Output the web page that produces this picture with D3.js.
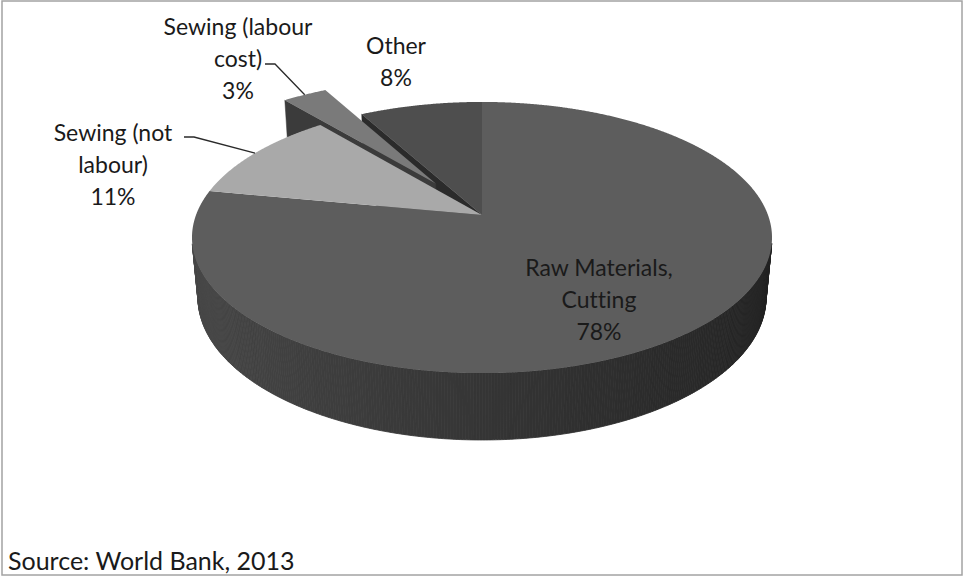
<!DOCTYPE html>
<html>
<head>
<meta charset="utf-8">
<script src="https://cdn.jsdelivr.net/npm/d3@7"></script>
<style>
  html, body { margin: 0; padding: 0; background: #fff; }
  svg { display: block; }
  text { font-family: Lato, "Open Sans", sans-serif; fill: #1a1a1a; font-variant-ligatures: none; font-feature-settings: "liga" 0; }
</style>
</head>
<body>
<svg id="chart" width="963" height="576"></svg>
<script>
// Garment cost breakdown
const categories = ["Raw Materials, Cutting", "Sewing (not labour)", "Sewing (labour cost)", "Other"];
const shares = [78, 11, 3, 8];
const labelLines = [["Raw Materials,", "Cutting"], ["Sewing (not", "labour)"], ["Sewing (labour", "cost)"], ["Other"]];
const explodeBy = [0, 0, 0.3, 0];
const sourceNote = "Source: World Bank, 2013";

// Styling
const topColors = ["#5d5d5d", "#a9a9a9", "#7a7a7a", "#4e4e4e"];
const faceColors = ["#3a3a3a", "#6a6a6a", "#3b3b3b", "#2b2b2b"];

// Perspective view of a unit-radius disc
const view = { cx: 482, cy: 215, focal: 1528, dist: 5.343, tilt: Math.asin(0.461), thick: 0.238 };
const sinT = Math.sin(view.tilt), cosT = Math.cos(view.tilt);
const cam = [0, view.dist * sinT, -view.dist * cosT];

function project(X, Y, Z) {
  const yp = Y * cosT + Z * sinT;
  const d = view.dist - Y * sinT + Z * cosT;
  return [view.cx + view.focal * X / d, view.cy - view.focal * yp / d];
}
function facing(p, n) {
  return (cam[0] - p[0]) * n[0] + (cam[1] - p[1]) * n[1] + (cam[2] - p[2]) * n[2] > 0;
}

const svg = d3.select("#chart");
const W = 963, H = 576;

svg.append("rect").attr("x", 0).attr("y", 0).attr("width", W).attr("height", H).attr("fill", "#fff");

const arcs = d3.pie().sort(null).value(d => d)(shares);
const slices = arcs.map((p, i) => {
  const mid = (p.startAngle + p.endAngle) / 2;
  return { i, a0: p.startAngle, a1: p.endAngle, mid,
           ox: explodeBy[i] * Math.sin(mid), oz: explodeBy[i] * Math.cos(mid) };
});
const n = slices.length;
const h = view.thick;
const rim = (s, a, y, r = 1) => project(s.ox + r * Math.sin(a), y, s.oz + r * Math.cos(a));
const hub = (s, y) => project(s.ox, y, s.oz);
const closed = d3.line().curve(d3.curveLinearClosed);

function angleSteps(a0, a1, step) {
  const k = Math.max(2, Math.ceil((a1 - a0) / step));
  return d3.range(k + 1).map(j => a0 + (a1 - a0) * j / k);
}
function shade(hex, f) {
  const c = d3.rgb(hex);
  return d3.rgb(c.r * f, c.g * f, c.b * f).formatHex();
}

const g = svg.append("g");

// Radial cut faces, only where a neighbouring slice has been pulled out
function drawFaces(s) {
  const prev = slices[(s.i - 1 + n) % n], next = slices[(s.i + 1) % n];
  const open0 = explodeBy[s.i] > 0 || explodeBy[prev.i] > 0;
  const open1 = explodeBy[s.i] > 0 || explodeBy[next.i] > 0;
  const faces = [];
  if (open0) faces.push({ a: s.a0, nrm: [-Math.cos(s.a0), 0, Math.sin(s.a0)] });
  if (open1) faces.push({ a: s.a1, nrm: [Math.cos(s.a1), 0, -Math.sin(s.a1)] });
  faces.forEach(fc => {
    const pc = [s.ox + 0.5 * Math.sin(fc.a), -h / 2, s.oz + 0.5 * Math.cos(fc.a)];
    if (!facing(pc, fc.nrm)) return;
    g.append("path")
      .attr("d", closed([hub(s, 0), rim(s, fc.a, 0), rim(s, fc.a, -h), hub(s, -h)]))
      .attr("fill", faceColors[s.i]).attr("stroke", faceColors[s.i]).attr("stroke-width", 0.5);
  });
}

// Curved outer wall, drawn in thin shaded strips
function drawWall(s) {
  const angs = angleSteps(s.a0, s.a1, Math.PI / 360);
  for (let k = 0; k < angs.length - 1; k++) {
    const a = angs[k], b = angs[k + 1], m = (a + b) / 2;
    const pc = [s.ox + Math.sin(m), -h / 2, s.oz + Math.cos(m)];
    if (!facing(pc, [Math.sin(m), 0, Math.cos(m)])) continue;
    const col = shade(topColors[s.i], 0.57 - 0.2 * Math.sin(m));
    g.append("path")
      .attr("d", closed([rim(s, a, 0), rim(s, b, 0), rim(s, b, -h), rim(s, a, -h)]))
      .attr("fill", col).attr("stroke", col).attr("stroke-width", 0.8);
  }
}

function drawTop(s) {
  const pts = [hub(s, 0)].concat(angleSteps(s.a0, s.a1, Math.PI / 720).map(a => rim(s, a, 0)));
  g.append("path").attr("d", closed(pts)).attr("fill", topColors[s.i]);
}

const exploded = slices.filter(s => explodeBy[s.i] > 0);
const seated = slices.filter(s => explodeBy[s.i] === 0);

seated.forEach(drawFaces);
exploded.forEach(s => { drawFaces(s); drawWall(s); drawTop(s); });
seated.forEach(drawWall);
seated.forEach(drawTop);

// Data labels
const fs = 23, lh = 32;
const labelSpots = [
  { x: 599, y: 276 },
  { x: 113, y: 141 },
  { x: 238, y: 35 },
  { x: 396, y: 54 }
];
slices.forEach(s => {
  const spot = labelSpots[s.i];
  const lines = labelLines[s.i].concat([shares[s.i] + "%"]);
  const t = svg.append("text").attr("font-size", fs).attr("text-anchor", "middle");
  lines.forEach((ln, j) => {
    t.append("tspan").attr("x", spot.x).attr("y", spot.y + j * lh).text(ln);
  });
});

// Leader lines for the two narrow sewing slices
const leaders = [
  { slice: 1, from: [184, 137], elbow: [194, 137] },
  { slice: 2, from: [265, 64], elbow: [275, 64] }
];
leaders.forEach(L => {
  const s = slices[L.slice];
  const end = rim(s, s.mid, 0);
  svg.append("path")
    .attr("d", d3.line()([L.from, L.elbow, end]))
    .attr("fill", "none").attr("stroke", "#2a2a2a").attr("stroke-width", 1.3);
});

// Source note
svg.append("text").attr("x", 8).attr("y", 570).attr("font-size", 25).text(sourceNote);

// Outer frame
svg.append("rect").attr("x", 2).attr("y", 1).attr("width", 960).attr("height", 574)
  .attr("fill", "none").attr("stroke", "#a3a3a3").attr("stroke-width", 1.5);
</script>
</body>
</html>
